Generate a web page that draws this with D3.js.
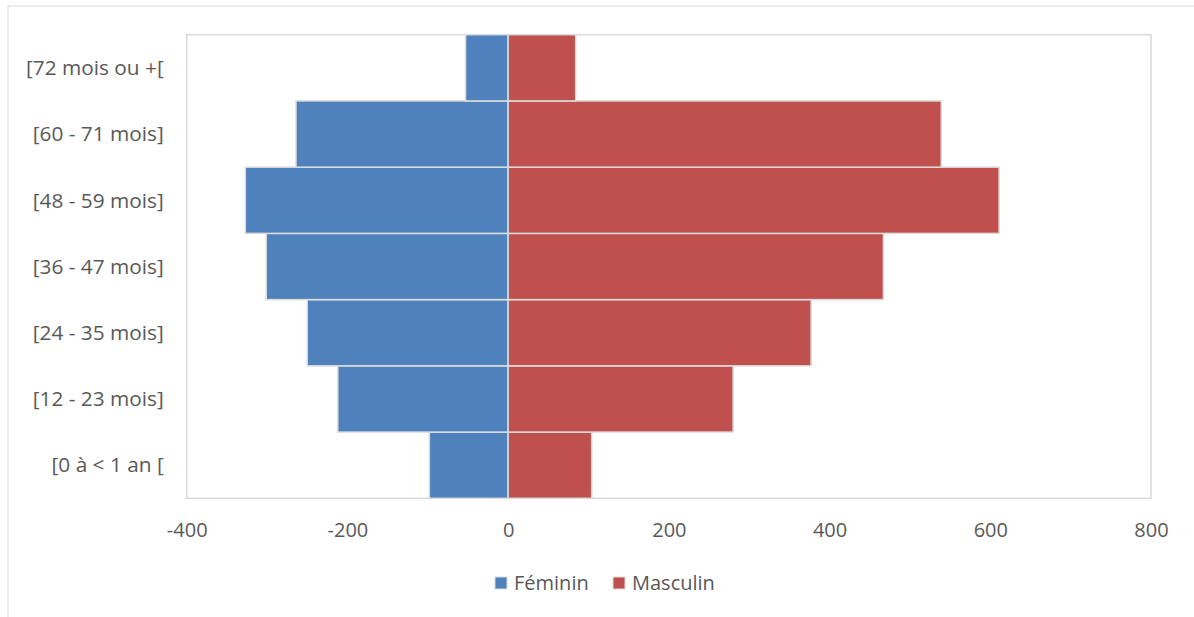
<!DOCTYPE html>
<html>
<head>
<meta charset="utf-8">
<script src="https://cdn.jsdelivr.net/npm/d3@7"></script>
<style>
  html, body { margin: 0; padding: 0; background: #fff; }
  svg { display: block; }
  text { font-family: "Open Sans", "Liberation Sans", sans-serif; fill: #595959; }
</style>
</head>
<body>
<svg id="chart" width="1194" height="617"></svg>
<script>
const categories = ["[0 à < 1 an [", "[12 - 23 mois]", "[24 - 35 mois]", "[36 - 47 mois]", "[48 - 59 mois]", "[60 - 71 mois]", "[72 mois ou +["];
const feminin  = [-98, -212, -250, -301, -327, -264, -53];
const masculin = [104, 280, 377, 467, 611, 539, 84];
const xTicks = [-400, -200, 0, 200, 400, 600, 800];
const seriesNames = ["Féminin", "Masculin"];
const seriesColors = ["#4F81BD", "#C0504D"];

const svg = d3.select("#chart");
const plot = { left: 186.7, right: 1151, top: 34.7, bottom: 498.3 };

// outer chart border (top + left visible)
svg.append("rect")
  .attr("x", 8).attr("y", 6)
  .attr("width", 1200).attr("height", 700)
  .attr("fill", "none").attr("stroke", "#d9d9d9").attr("stroke-width", 1);

const x = d3.scaleLinear().domain([-400, 800]).range([plot.left, plot.right]);
const y = d3.scaleBand().domain(categories.slice().reverse()).range([plot.top, plot.bottom]).padding(0);

// plot area border
svg.append("rect")
  .attr("x", plot.left).attr("y", plot.top)
  .attr("width", plot.right - plot.left).attr("height", plot.bottom - plot.top)
  .attr("fill", "none").attr("stroke", "#d9d9d9").attr("stroke-width", 1.5);

const series = [feminin, masculin];
series.forEach((vals, si) => {
  svg.append("g").selectAll("rect")
    .data(vals.map((v, i) => ({ cat: categories[i], v })))
    .join("rect")
    .attr("x", d => x(Math.min(0, d.v)))
    .attr("width", d => Math.abs(x(d.v) - x(0)))
    .attr("y", d => y(d.cat))
    .attr("height", y.bandwidth())
    .attr("fill", seriesColors[si])
    .attr("stroke", "#dcdcdc")
    .attr("stroke-width", 1.5);
});

// x axis labels
const xAxis = d3.axisBottom(x).tickValues(xTicks).tickSize(0).tickPadding(0).tickFormat(d => String(d));
const gx = svg.append("g").attr("transform", `translate(0, ${plot.bottom})`).call(xAxis);
gx.attr("font-family", null).attr("font-size", null);
gx.select(".domain").remove();
gx.selectAll("text")
  .attr("y", 32).attr("dy", "0.35em")
  .style("font-size", "20px").attr("fill", "#595959");

// y axis labels
const yAxis = d3.axisLeft(y).tickSize(0).tickPadding(0);
const gy = svg.append("g").attr("transform", `translate(${plot.left}, 0)`).call(yAxis);
gy.attr("font-family", null).attr("font-size", null);
gy.select(".domain").remove();
gy.selectAll("text")
  .attr("x", -23).attr("dy", "0.35em")
  .style("font-size", "20.8px").attr("fill", "#595959");

// legend
const legendItems = [
  { name: seriesNames[0], color: seriesColors[0], x: 495 },
  { name: seriesNames[1], color: seriesColors[1], x: 613 }
];
const lg = svg.append("g");
legendItems.forEach(it => {
  lg.append("rect").attr("x", it.x).attr("y", 577).attr("width", 12).attr("height", 12)
    .attr("fill", it.color).attr("stroke", "#d9d9d9").attr("stroke-width", 1);
  lg.append("text").attr("x", it.x + 19).attr("y", 583).attr("dy", "0.35em")
    .style("font-size", "20px").text(it.name);
});
</script>
</body>
</html>
